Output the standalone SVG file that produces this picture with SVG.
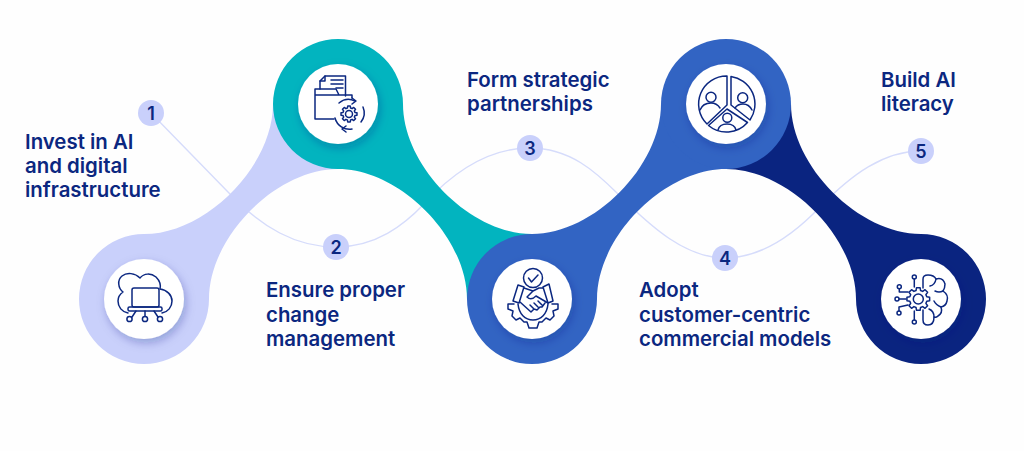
<svg xmlns="http://www.w3.org/2000/svg" xmlns:xlink="http://www.w3.org/1999/xlink" width="1024" height="451" viewBox="0 0 1024 451">
<style>
.label{font-family:"Inter","Noto Sans",sans-serif;font-weight:600;font-size:20.4px;fill:#0b2780}
.num{font-family:"Inter","Noto Sans",sans-serif;font-weight:600;font-size:18px;fill:#0b2780;text-anchor:middle}
.badge{fill:#c9d0fb}
.disc{fill:#fff;filter:url(#sh)}
.ic{fill:none;stroke:#0b2780;stroke-width:1.5;stroke-linecap:round;stroke-linejoin:round}
.thin{fill:none;stroke:#d6dcfb;stroke-width:1.4}
</style>
<defs>
<filter id="sh" x="-30%" y="-30%" width="160%" height="160%"><feDropShadow dx="2" dy="4" stdDeviation="5" flood-color="#0b2780" flood-opacity=".28"/></filter>
<path id="gear" vector-effect="non-scaling-stroke" d="M6.28 -1.68L8.4 -1.33V1.33L6.28 1.68L5.63 3.25L6.88 5L5 6.88L3.25 5.63L1.68 6.28L1.33 8.4H-1.33L-1.68 6.28L-3.25 5.63L-5 6.88L-6.88 5L-5.63 3.25L-6.28 1.68L-8.4 1.33V-1.33L-6.28 -1.68L-5.63 -3.25L-6.88 -5L-5 -6.88L-3.25 -5.63L-1.68 -6.28L-1.33 -8.4H1.33L1.68 -6.28L3.25 -5.63L5 -6.88L6.88 -5L5.63 -3.25Z"/>
</defs>
<rect width="1024" height="451" fill="#fefefe"/>
<g id="connectors">
<path class="thin" d="M151 113L228 192C262 228 296 247 336 247C376 247 404 225 424 204C455 170 490 148 530 148C570 148 596 172 618 194C652 228 686 258 725 258C764 258 798 230 820 207C852 174 884 151 921 151"/>
</g>
<g id="node-1">
<path fill="#c9d0fb" d="M144 234C206 234 273 166 273 104L338 169C276 169 209 237 209 299A65 65 0 1 1 144 234Z"/>
<circle class="disc" cx="144" cy="299" r="40"/>
<g class="ic">
<path d="M128 313C122 312 118 307 118 301C118 297 120 294 123 292C118 288 117 280 122 276C127 272 135 273 140 278C144 273 151 273 156 277C160 281 161 285 160 289C167 290 172 295 172 301C172 307 168 312 162 313"/>
<rect x="132" y="288" width="27" height="19" rx="2"/>
<rect x="128" y="307" width="34" height="4" rx="1.5"/>
<path d="M136 311L132 317M145 311V316M154 311L158 317"/>
<circle cx="129.500" cy="319" r="2.6"/><circle cx="145" cy="319" r="2.6"/><circle cx="160" cy="319" r="2.6"/>
</g>
<circle class="badge" cx="151" cy="113" r="13"/>
<text class="num" x="151" y="120">1</text>
<text class="label" x="25" y="149">Invest in AI</text>
<text class="label" x="25" y="173">and digital</text>
<text class="label" x="25" y="197">infrastructure</text>
</g>
<g id="node-2">
<path fill="#02b4bf" d="M338 39A65 65 0 0 1 403 104C403 166 470 234 532 234L467 299C467 237 400 169 338 169A65 65 0 0 1 338 39Z"/>
<circle class="disc" cx="338" cy="104" r="40"/>
<g class="ic">
<path d="M320 89V81L325 76H345.500V96"/>
<path d="M325 76V81H320M331 80H343M331 84H343M336 88H343"/>
<path d="M315 119V89H336L339 95H352V98M339 95H315M315 119H334"/>
<path d="M339 103A15 15 0 0 1 355 101M363 107A15 15 0 0 1 361 122M352 129A15 15 0 0 1 335 118"/>
<path d="M352 98L356 101L352 104M346 126L342 129L346 132"/>
<circle cx="349" cy="114" r="3.5"/>
<use href="#gear" transform="translate(349 114) scale(.95)"/>
</g>
<circle class="badge" cx="336" cy="247" r="13"/>
<text class="num" x="336" y="254">2</text>
<text class="label" x="266" y="297">Ensure proper</text>
<text class="label" x="266" y="322">change</text>
<text class="label" x="266" y="346">management</text>
</g>
<g id="node-3">
<path fill="#3264c3" d="M532 234C594 234 661 166 661 104L726 169C664 169 597 237 597 299A65 65 0 1 1 532 234Z"/>
<circle class="disc" cx="532" cy="299" r="40"/>
<g class="ic">
<circle cx="533" cy="278" r="9.500"/>
<path d="M528.500 278L531.500 282L538 275"/>
<path d="M518 285L524 287L519 303L513 301ZM543 287L549 284L553 301L548 303Z"/>
<path d="M524 288L533 291L539 288L543 288M533 291L527 297C530 300 533 299 536 296L548 303M520 302L531 312L534 309L537 310L540 307L542 307L545 303M534 309L530 305M538 307L534 303M542 305L538 301"/>
<path d="M518 304C519 314 525 320 533 320C541 320 547 314 548 304"/>
<path d="M514 304H508V309L513 311L512 316L516 320L520 318L524 322L527 322L529 328H537L539 322L542 322L546 318L550 320L554 316L553 311L558 309V304H552"/>
</g>
<circle class="badge" cx="530" cy="148" r="13"/>
<text class="num" x="530" y="155">3</text>
<text class="label" x="467" y="87">Form strategic</text>
<text class="label" x="467" y="111">partnerships</text>
</g>
<g id="node-5">
<path fill="#0a2480" d="M791 104C791 166 859 234 921 234A65 65 0 1 1 856 299C856 237 788 169 726 169Z"/>
<circle class="disc" cx="921" cy="299" r="40"/>
<g class="ic">
<circle cx="918.300" cy="299" r="5"/>
<use href="#gear" transform="translate(918.300 299) scale(1.35)"/>
<path d="M923 288V279Q923 275 928 275Q934 275 936 279Q943 277 945 284Q945 288 943 291Q949 295 947 301Q946 306 941 307Q943 313 938 316Q936 318 934 317Q934 325 928 325Q923 325 923 320V310"/>
<path d="M936 279Q935 285 930 286M943 291Q939 293 935 291M941 307Q936 305 934 301M934 317Q934 311 929 309"/>
<path d="M914.300 279V287M899.300 289V292H908M899 299H906M899 311V307L908 305M914.300 320V311"/>
<circle cx="914.300" cy="277" r="2"/><circle cx="899.300" cy="286.700" r="2"/><circle cx="897" cy="299" r="2"/><circle cx="899" cy="313" r="2"/><circle cx="914.300" cy="322" r="2"/>
</g>
<circle class="badge" cx="921" cy="151" r="13"/>
<text class="num" x="921" y="158">5</text>
<text class="label" x="881" y="87">Build AI</text>
<text class="label" x="881" y="111">literacy</text>
</g>
<g id="node-4">
<circle fill="#3264c3" cx="726" cy="104" r="65"/>
<circle class="disc" cx="726" cy="104" r="40"/>
<g class="ic">
<path d="M727 76V105L707 124A28 28 0 0 1 727 76ZM731 76.400V105L750 120A28 28 0 0 0 731 76.400ZM708.500 125.500L727 109L747.500 122.500A28 28 0 0 1 708.500 125.500Z"/>
<circle cx="711" cy="97.300" r="5"/><circle cx="742.700" cy="97.700" r="5"/><circle cx="727.300" cy="117.700" r="4.500"/>
<path d="M700 110C702 105 706 103 711 103C715 103 718 105 720 108M735 108C737 105 739 104 743 104C747 104 750 106 752 110M718 130C719 126 722 124 727 124C732 124 735 126 736 130"/>
</g>
<circle class="badge" cx="725" cy="258" r="13"/>
<text class="num" x="725" y="265">4</text>
<text class="label" x="639" y="297">Adopt</text>
<text class="label" x="639" y="322">customer-centric</text>
<text class="label" x="639" y="346">commercial models</text>
</g>
</svg>
